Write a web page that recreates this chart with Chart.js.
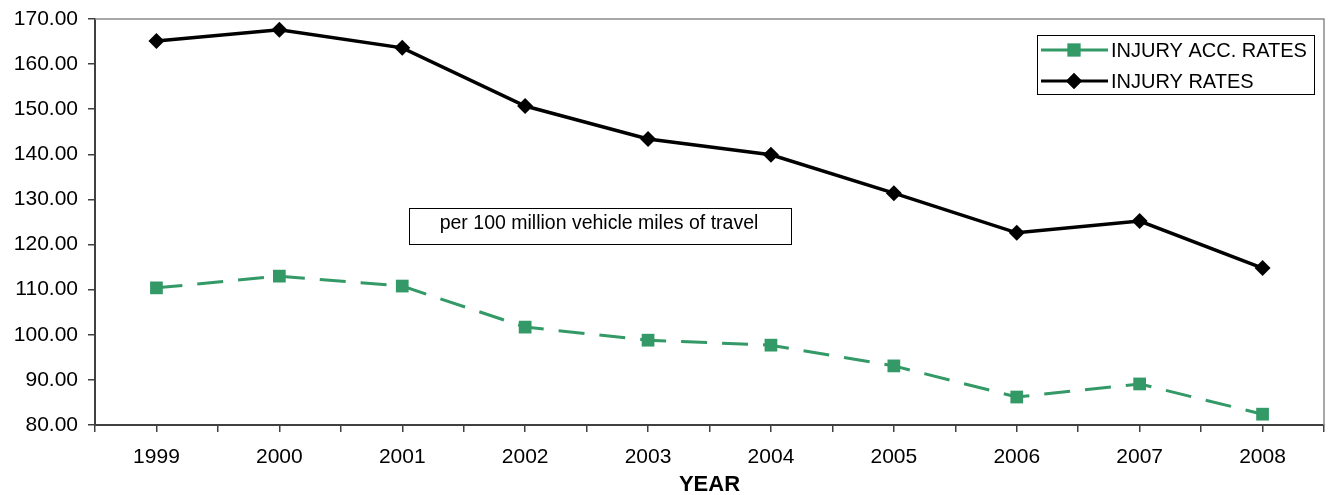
<!DOCTYPE html>
<html lang="en">
<head>
  <meta charset="UTF-8">
  <title>Injury Rates 1999-2008</title>
  <style>
    body {
      margin: 0;
      background: #fff;
      font-family: 'Liberation Sans', Arial, sans-serif;
    }
    canvas {
      display: block;
    }
  </style>
</head>
<body>
  <canvas id="chartCanvas" width="1333" height="495"></canvas>

  <script src="https://cdn.jsdelivr.net/npm/chart.js"></script>
  <script>
    // Data
    const years = [1999, 2000, 2001, 2002, 2003, 2004, 2005, 2006, 2007, 2008];
    const injuryAccRates = [110.4, 113.0, 110.8, 101.7, 98.8, 97.7, 93.1, 86.2, 89.1, 82.4];
    const injuryRates = [165.1, 167.6, 163.6, 150.7, 143.4, 139.9, 131.4, 122.6, 125.2, 114.8];
    const seriesNames = ['INJURY ACC. RATES', 'INJURY RATES'];
    const noteText = 'per 100 million vehicle miles of travel';
    const xTitle = 'YEAR';

    const GREEN = '#339966';
    const FONT = "'Liberation Sans', Arial, sans-serif";

    // Legend, note box and the gray top/right frame
    const extras = {
      id: 'extras',
      afterDatasetsDraw(chart) {
        const ctx = chart.ctx;
        const area = chart.chartArea;
        ctx.save();

        // plot frame top + right
        ctx.strokeStyle = '#8c8c8c';
        ctx.lineWidth = 1.5;
        ctx.beginPath();
        ctx.moveTo(area.left, area.top);
        ctx.lineTo(area.right, area.top);
        ctx.lineTo(area.right, area.bottom);
        ctx.stroke();

        // note box
        ctx.fillStyle = '#fff';
        ctx.fillRect(409, 208, 382, 36);
        ctx.strokeStyle = '#000';
        ctx.lineWidth = 1;
        ctx.strokeRect(409.5, 208.5, 382, 36);
        ctx.fillStyle = '#000';
        ctx.font = '19.5px ' + FONT;
        ctx.textAlign = 'center';
        ctx.textBaseline = 'middle';
        ctx.fillText(noteText, 599, 224);

        // legend box
        ctx.fillStyle = '#fff';
        ctx.fillRect(1037, 35, 277, 59);
        ctx.strokeStyle = '#000';
        ctx.strokeRect(1037.5, 35.5, 277, 59);

        const rows = [50, 81];
        chart.data.datasets.forEach((ds, i) => {
          const y = rows[i];
          ctx.strokeStyle = ds.borderColor;
          ctx.lineWidth = 3;
          ctx.setLineDash([]);
          ctx.beginPath();
          ctx.moveTo(1041, y);
          ctx.lineTo(1108, y);
          ctx.stroke();
          ctx.fillStyle = ds.pointBackgroundColor;
          ctx.strokeStyle = ds.pointBackgroundColor;
          ctx.lineWidth = 0.5;
          Chart.helpers.drawPoint(ctx, {
            pointStyle: ds.pointStyle,
            radius: ds.pointRadius,
            rotation: 0,
            borderWidth: 0.5
          }, 1074, y);
          ctx.fillStyle = '#000';
          ctx.font = '20px ' + FONT;
          ctx.textAlign = 'left';
          ctx.textBaseline = 'middle';
          ctx.fillText(ds.label, 1111, y + 1);
        });

        ctx.restore();
      }
    };

    new Chart(document.getElementById('chartCanvas'), {
      type: 'line',
      data: {
        datasets: [{
          label: seriesNames[0],
          data: years.map((y, i) => ({ x: y, y: injuryAccRates[i] })),
          borderColor: GREEN,
          backgroundColor: GREEN,
          pointBackgroundColor: GREEN,
          pointBorderColor: GREEN,
          borderWidth: 3,
          borderDash: [26, 15],
          pointStyle: 'rect',
          pointRadius: 9,
          pointBorderWidth: 0,
          tension: 0
        }, {
          label: seriesNames[1],
          data: years.map((y, i) => ({ x: y, y: injuryRates[i] })),
          borderColor: '#000',
          backgroundColor: '#000',
          pointBackgroundColor: '#000',
          pointBorderColor: '#000',
          borderWidth: 3.5,
          pointStyle: 'rectRot',
          pointRadius: 8,
          pointBorderWidth: 0,
          tension: 0
        }]
      },
      plugins: [extras],
      options: {
        responsive: false,
        animation: false,
        devicePixelRatio: 1,
        layout: { padding: { top: 19, right: -4, left: 0, bottom: 0 } },
        plugins: {
          legend: { display: false },
          tooltip: { enabled: false }
        },
        scales: {
          x: {
            type: 'linear',
            min: years[0] - 0.5,
            max: years[years.length - 1] + 0.5,
            afterFit(scale) {
              scale.height = 70;
              scale.paddingLeft = 0;
              scale.paddingRight = 0;
            },
            ticks: {
              stepSize: 0.5,
              autoSkip: false,
              maxRotation: 0,
              color: '#000',
              padding: 13,
              font: { family: FONT, size: 21 },
              callback: v => Number.isInteger(v) ? String(v) : ''
            },
            grid: {
              drawOnChartArea: false,
              drawTicks: true,
              tickLength: 7,
              color: '#404040',
              lineWidth: 1.5
            },
            border: { color: '#404040', width: 2 },
            title: {
              display: true,
              text: xTitle,
              color: '#000',
              padding: { top: 0, bottom: -1 },
              font: { family: FONT, size: 22, weight: 'bold', lineHeight: 1 }
            }
          },
          y: {
            min: 80,
            max: 170,
            afterFit(scale) {
              scale.width = 95;
              scale.paddingTop = 0;
              scale.paddingBottom = 0;
            },
            ticks: {
              stepSize: 10,
              color: '#000',
              padding: 10,
              font: { family: FONT, size: 21 },
              callback: v => v.toFixed(2)
            },
            grid: {
              drawOnChartArea: false,
              drawTicks: true,
              tickLength: 7,
              color: '#404040',
              lineWidth: 1.5
            },
            border: { color: '#404040', width: 2 }
          }
        }
      }
    });
  </script>
</body>
</html>
